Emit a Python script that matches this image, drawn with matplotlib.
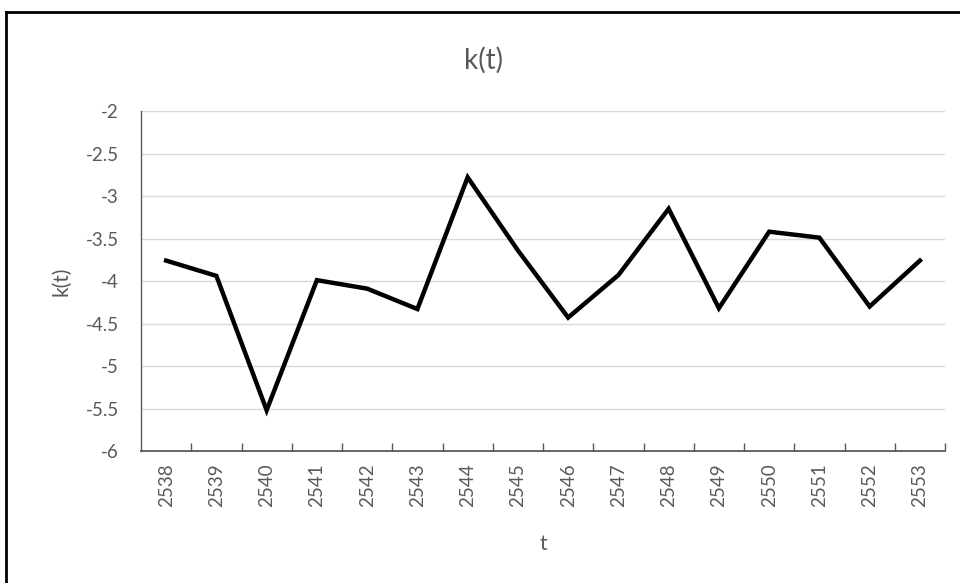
import matplotlib
matplotlib.use("Agg")
import matplotlib.pyplot as plt
from matplotlib.lines import Line2D

# data
years = [2538, 2539, 2540, 2541, 2542, 2543, 2544, 2545,
         2546, 2547, 2548, 2549, 2550, 2551, 2552, 2553]
k_values = [-3.76, -3.94, -5.52, -3.99, -4.09, -4.33, -2.78, -3.64,
            -4.43, -3.93, -3.15, -4.32, -3.42, -3.49, -4.30, -3.76]
y_ticks = [-6, -5.5, -5, -4.5, -4, -3.5, -3, -2.5, -2]

plt.rcParams['font.family'] = ['Lato', 'DejaVu Sans']
text_color = '#595959'

fig = plt.figure(figsize=(9.6, 5.83), dpi=100)
ax = fig.add_axes([0.1469, 0.2264, 0.8375, 0.5832])

x = list(range(len(years)))
ax.plot(x, k_values, color='black', linewidth=3.2, solid_joinstyle='miter')

ax.set_xlim(-0.5, len(years) - 0.5)
ax.set_ylim(-6, -2)
ax.set_yticks(y_ticks)
ax.set_yticklabels([f"{v:g}" for v in y_ticks])
ax.grid(axis='y', color='#d9d9d9', linewidth=1)
ax.set_axisbelow(True)

# category labels in the middle, tick marks at the boundaries
ax.set_xticks([i + 0.5 for i in x])
ax.set_xticklabels([])
ax.set_xticks(x, minor=True)
ax.set_xticklabels([str(y) for y in years], minor=True, rotation=90)
ax.tick_params(axis='x', which='major', direction='in', length=6,
               width=1, color='#595959')
ax.tick_params(axis='x', which='minor', length=0, pad=9,
               labelsize=13.5, labelcolor=text_color)
ax.tick_params(axis='y', length=0, pad=16, labelsize=13.5,
               labelcolor=text_color)

for side in ['top', 'right']:
    ax.spines[side].set_visible(False)
ax.spines['left'].set_color('#595959')
ax.spines['bottom'].set_color('#595959')
ax.spines['left'].set_linewidth(1)
ax.spines['bottom'].set_linewidth(1.3)

ax.set_xlabel('t', fontsize=15, color=text_color, labelpad=19)
ax.set_ylabel('k(t)', fontsize=15, color=text_color, labelpad=10)
fig.text(0.504, 0.897, 'k(t)', ha='center', va='center',
         fontsize=20, color=text_color)

# chart frame (only top and left edges show in the picture)
fig.add_artist(Line2D([0.0065, 0.0065], [0, 0.9794], color='black',
                      linewidth=2, transform=fig.transFigure))
fig.add_artist(Line2D([0.0065, 1], [0.9794, 0.9794], color='black',
                      linewidth=2, transform=fig.transFigure))

fig.savefig('out.png', dpi=100)
